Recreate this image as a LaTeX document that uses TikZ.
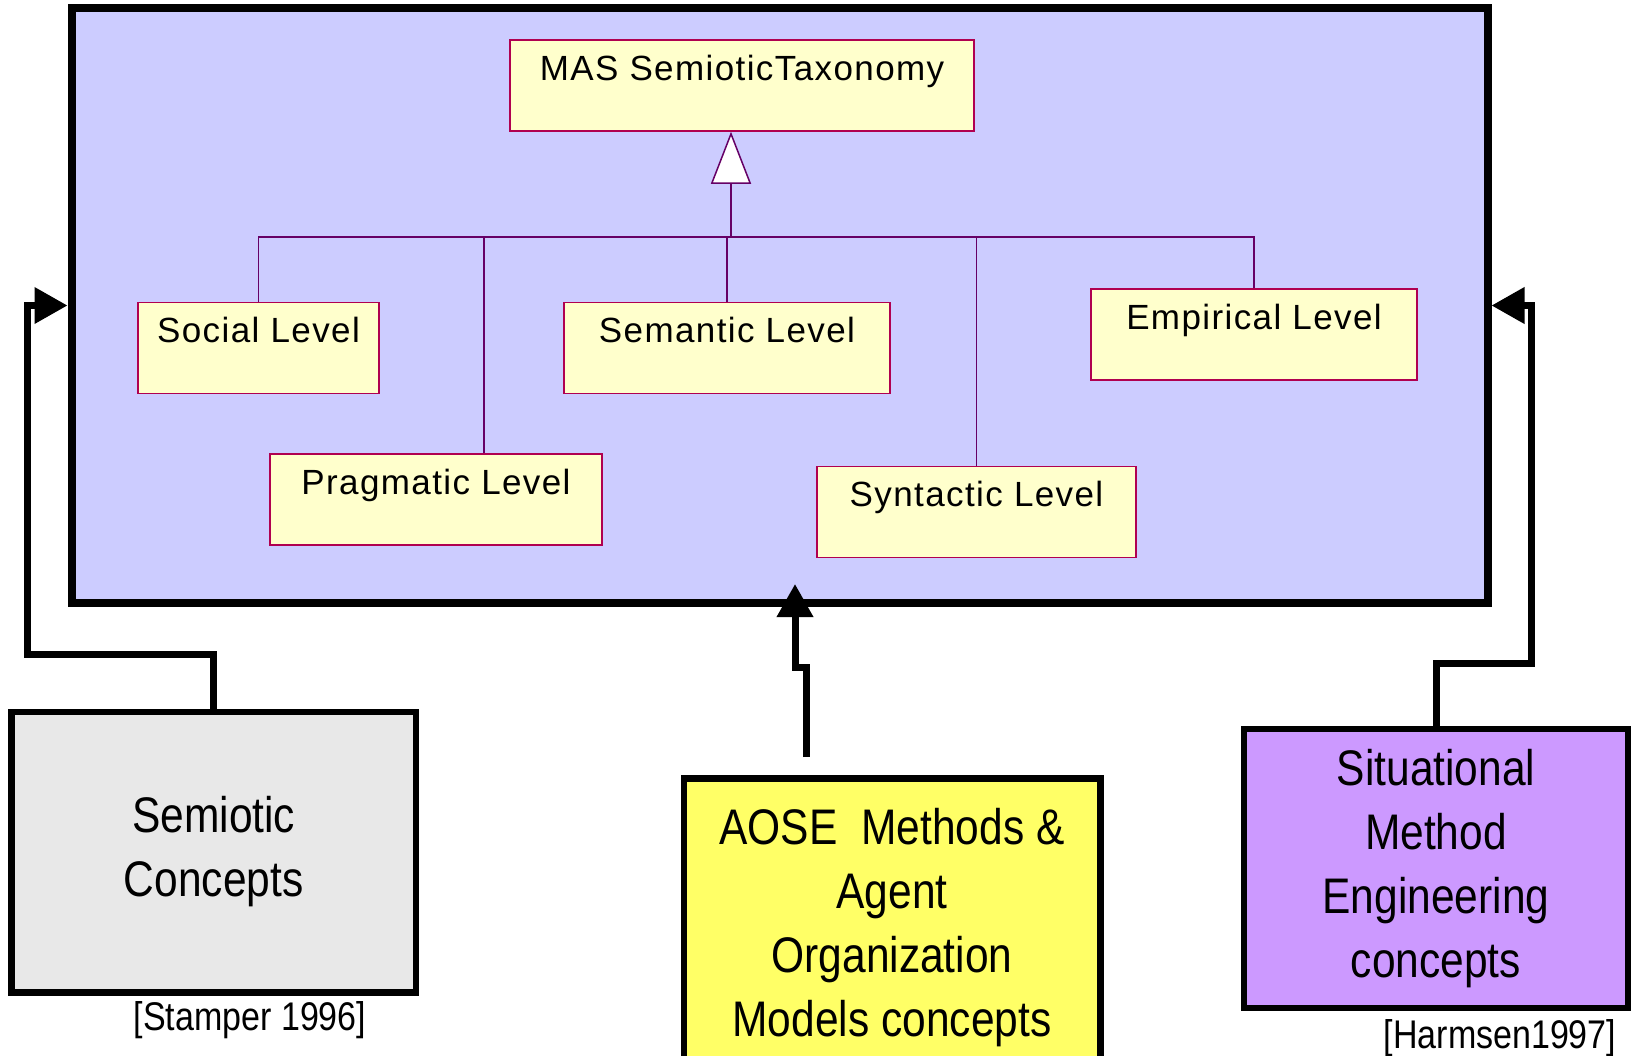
\documentclass[tikz,border=0pt]{standalone}
\usepackage{fontspec}
\setmainfont{Liberation Sans}
\newfontfamily\levelfont[LetterSpace=4]{Liberation Sans}
\newfontfamily\narrowfont[FakeStretch=0.85]{Liberation Sans}
\usetikzlibrary{arrows.meta}
\definecolor{frameblue}{RGB}{204,204,255}
\definecolor{levelyellow}{RGB}{255,255,204}
\definecolor{levelred}{RGB}{176,0,80}
\definecolor{treepurple}{RGB}{102,0,102}
\definecolor{greyfill}{RGB}{232,232,232}
\definecolor{aoseyellow}{RGB}{255,255,102}
\definecolor{smeviolet}{RGB}{204,153,255}
\tikzstyle{taxFrame} = [
 rectangle,
 draw=black,
 line width=4pt,
 fill=frameblue,
 inner sep=0pt,
 minimum width=708pt,
 minimum height=297.5pt
]
\tikzstyle{levelBox} = [
 rectangle,
 draw=levelred,
 line width=0.75pt,
 fill=levelyellow,
 inner sep=0pt,
 text height=20pt,
 text depth=25.5pt,
 font=\levelfont\fontsize{17.5}{21}\selectfont
]
\tikzstyle{sourceBox} = [
 rectangle,
 draw=black,
 line width=3.25pt,
 align=center,
 font=\narrowfont\fontsize{25}{32}\selectfont
]
\tikzstyle{citation} = [
 anchor=base,
 font=\narrowfont\fontsize{20}{24}\selectfont
]
\tikzstyle{branch} = [draw=treepurple, line width=0.75pt]
\tikzstyle{inherit} = [branch, -{Triangle[length=26pt, width=20pt, fill=white]}]
\tikzstyle{feed} = [draw=black, line width=3.5pt, -{Triangle[length=16.5pt, width=17.5pt]}]

\begin{document}
\begin{tikzpicture}[x=0.5pt, y=-0.5pt]
  \useasboundingbox (0,0) rectangle (1636,1055);

  % the taxonomy frame
  \node [taxFrame] (frame) at (779.5,305.5) {};
  \node [levelBox, minimum width=232pt] (mas) at (742,85.5) {MAS SemioticTaxonomy};
  \node [levelBox, minimum width=120.5pt] (social) at (258.5,348) {Social Level};
  \node [levelBox, minimum width=166pt] (pragmatic) at (436,499.5) {Pragmatic Level};
  \node [levelBox, minimum width=163pt] (semantic) at (727,348) {Semantic Level};
  \node [levelBox, minimum width=159.5pt] (syntactic) at (976.5,512) {Syntactic Level};
  \node [levelBox, minimum width=163pt] (empirical) at (1254,334.5) {Empirical Level};

  \coordinate (bus) at (731,237);
  \draw [inherit] (bus) -- (bus |- mas.south);
  \draw [branch] (social.north) |- (bus);
  \draw [branch] ([xshift=24pt]pragmatic.north) |- (bus);
  \draw [branch] (semantic.north) |- (bus);
  \draw [branch] (syntactic.north) |- (bus);
  \draw [branch] (empirical.north) |- (bus);

  % the three sources
  \node [sourceBox, fill=greyfill, minimum width=202.25pt, minimum height=140.25pt]
    (semiotic) at (213.75,852) {Semiotic\\Concepts};
  \node [sourceBox, fill=aoseyellow, minimum width=208.25pt, minimum height=149pt, anchor=north]
    (aose) at (892,775) {AOSE \ Methods \&\\Agent\\Organization\\Models concepts};
  \node [sourceBox, fill=smeviolet, minimum width=192pt, minimum height=139.5pt]
    (sme) at (1436,868.5) {Situational\\Method\\Engineering\\concepts};

  \node [citation] (stamperRef) at (250,1030) {[Stamper 1996]};
  \node [citation] (harmsenRef) at (1500,1048) {[Harmsen1997]};

  \coordinate (leftBend) at (27.5,654);
  \coordinate (rightBend) at (1531,663);
  \coordinate (aoseTail) at (806,757);
  \coordinate (aoseJog) at (795,667);
  \draw [feed] (semiotic.north) |- (leftBend) |- (frame.west);
  \draw [feed] (sme.north) |- (rightBend) |- (frame.east);
  \draw [feed, shorten >=-11.5pt] (aoseTail) |- (aoseJog) -- (aoseJog |- frame.south);
\end{tikzpicture}
\end{document}
